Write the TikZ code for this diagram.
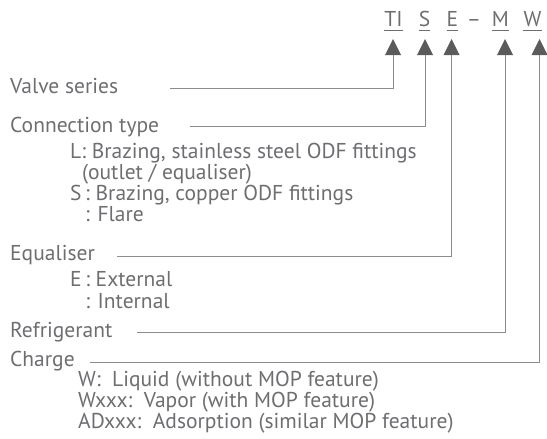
\documentclass[tikz,border=0pt]{standalone}
\usepackage{fontspec}
\setmainfont{PT Sans}
\definecolor{txtgrey}{HTML}{6D6E71}
\definecolor{lngrey}{HTML}{8C8C8C}
\definecolor{trigrey}{HTML}{5A5B5D}
\begin{document}
\begin{tikzpicture}[x=1pt,y=-1pt,
  lbl/.style={anchor=base west,inner sep=0pt,text=txtgrey,font=\fontsize{21.5}{24}\selectfont},
  code/.style={anchor=base,inner sep=0pt,text=txtgrey,font=\fontsize{21.5}{24}\selectfont},
  uline/.style={draw=txtgrey,line width=0.9pt},
  conn/.style={draw=lngrey,line width=1pt},
  tri/.style={fill=trigrey}]
\useasboundingbox (0,0) rectangle (547,439);
% code letters
\node[code] (cTI) at (393.5,26.7) {TI};
\node[code] (cS) at (424.5,26.7) {S};
\node[code] (cE) at (452.5,26.7) {E};
\node[code] (cdash) at (474,26.7) {–};
\node[code] (cM) at (500.5,26.7) {M};
\node[code] (cW) at (532.5,26.7) {W};
\foreach \n in {cTI,cS,cE,cM,cW}{
  \draw[uline] ([yshift=-3.5pt]\n.base west) -- ([yshift=-3.5pt]\n.base east);
}
% triangles
\foreach \n/\x in {tTI/393,tS/425,tE/451.5,tM/505,tW/539.5}{
  \coordinate (\n) at (\x,55);
  \fill[tri] (\x,39) -- ([xshift=8pt]\n) -- ([xshift=-8pt]\n) -- cycle;
}
% labels
\node[lbl] (vs) at (10,93) {Valve series};
\node[lbl] (ct) at (10,132.5) {Connection type};
\node[lbl] (ctL) at (70,158) {L: Brazing, stainless steel ODF fittings};
\node[lbl] (ctO) at (82,179) {(outlet / equaliser)};
\node[lbl] (ctS) at (70,200) {S\,: Brazing, copper ODF fittings};
\node[lbl] (ctF) at (70,221) {\phantom{S}\,: Flare};
\node[lbl] (eq) at (10,260) {Equaliser};
\node[lbl] (eqE) at (70,286) {E\,: External};
\node[lbl] (eqI) at (70,308) {\phantom{E}\,: Internal};
\node[lbl] (rf) at (10,337.5) {Refrigerant};
\node[lbl] (ch) at (10,366) {Charge};
\node[lbl] (chW) at (78,386) {W:\ \ Liquid (without MOP feature)};
\node[lbl] (chV) at (78,407) {Wxxx:\ \ Vapor (with MOP feature)};
\node[lbl] (chA) at (78,428.5) {ADxxx:\ \ Adsorption (similar MOP feature)};
% connector ends
\coordinate (vsEnd) at (170,88);
\coordinate (ctEnd) at (190,126);
\coordinate (eqEnd) at (117,256.5);
\coordinate (rfEnd) at (137,332.5);
\coordinate (chEnd) at (90,362.5);
\draw[conn] (tTI) |- (vsEnd);
\draw[conn] (tS) |- (ctEnd);
\draw[conn] (tE) |- (eqEnd);
\draw[conn] (tM) |- (rfEnd);
\draw[conn] (tW) |- (chEnd);
\end{tikzpicture}
\end{document}
